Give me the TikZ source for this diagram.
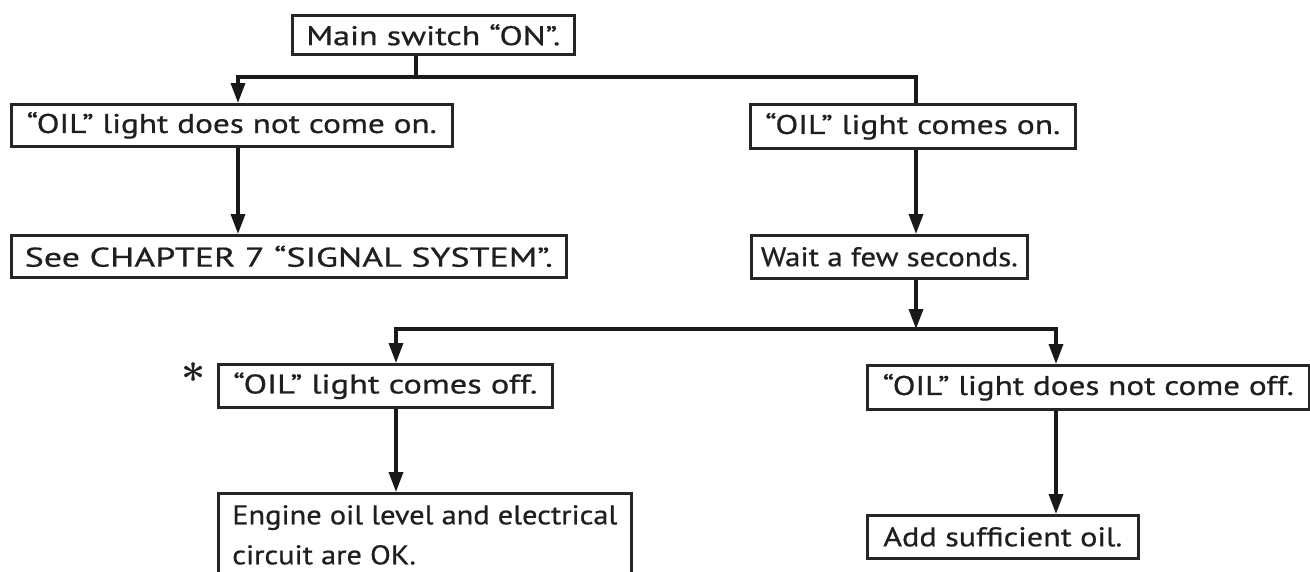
\documentclass[tikz,border=0pt]{standalone}
\usepackage{fontspec}
\setmainfont{PT Sans}[FakeBold=0.6]
\usetikzlibrary{arrows.meta}
\newcommand{\fitw}[2]{\resizebox{#1pt}{\height}{#2}}
\begin{document}
\begin{tikzpicture}[x=1pt,y=-1pt,
  box/.style={draw=black!85, line width=2.6pt, inner sep=0pt, anchor=north west,
    font=\fontsize{27}{40}\selectfont, text=black!88},
  conn/.style={draw=black!90, line width=3.4pt, line join=miter},
  arr/.style={conn, -{Triangle[length=20pt,width=14pt]}}]
\clip (0,0) rectangle (1310,571);
\fill[white] (0,0) rectangle (1310,571);
% boxes
\node[box, minimum width=282pt, minimum height=39pt] (main) at (291,14) {\fitw{254}{Main switch ``ON''.}};
\node[box, minimum width=441pt, minimum height=42pt] (A) at (10,103) {\fitw{410}{``OIL'' light does not come on.}};
\node[box, minimum width=555pt, minimum height=42pt] (C) at (10,234) {\fitw{528}{See CHAPTER 7 ``SIGNAL SYSTEM''.}};
\node[box, minimum width=325pt, minimum height=44pt] (B) at (749,103) {\fitw{295}{``OIL'' light comes on.}};
\node[box, minimum width=276pt, minimum height=43pt] (W) at (750,234) {\fitw{257}{Wait a few seconds.}};
\node[box, minimum width=334pt, minimum height=43pt] (D) at (217,363) {\fitw{304}{``OIL'' light comes off.}};
\node[box, inner ysep=3pt, minimum width=413pt] (E) at (217,492)
  {\resizebox{385pt}{\height}{\begin{tabular}{@{}l@{}}Engine oil level and electrical\\ circuit are OK.\end{tabular}}};
\node[box, minimum width=442pt, minimum height=44pt] (F) at (866,364) {\fitw{411}{``OIL'' light does not come off.}};
\node[box, minimum width=271pt, minimum height=43pt] (G) at (866,514) {\fitw{239}{Add sufficient oil.}};
\node[inner sep=0pt, text=black!88] (star) at (194,373) {\scalebox{4.2}{\boldmath$\ast$}};
% junctions
\coordinate (t1) at (416,77);
\coordinate (t1l) at (238,77);
\coordinate (t1r) at (916,77);
\coordinate (t2) at (916,329);
\coordinate (t2l) at (396,329);
\coordinate (t2r) at (1056,329);
% connectors
\draw[conn] (main.south -| t1) -- (t1);
\draw[arr] (B.north -| t1r) -- (t1r) -- (t1l) -- (A.north -| t1l);
\draw[arr] (A.south -| t1l) -- (C.north -| t1l);
\draw[arr] (B.south -| t1r) -- (W.north -| t1r);
\draw[arr] (W.south -| t2) -- (t2);
\draw[arr] (t2) -- (t2l) -- (D.north -| t2l);
\draw[arr] (t2) -- (t2r) -- (F.north -| t2r);
\draw[arr] (D.south -| t2l) -- (E.north -| t2l);
\draw[arr] (F.south -| t2r) -- (G.north -| t2r);
\end{tikzpicture}
\end{document}
